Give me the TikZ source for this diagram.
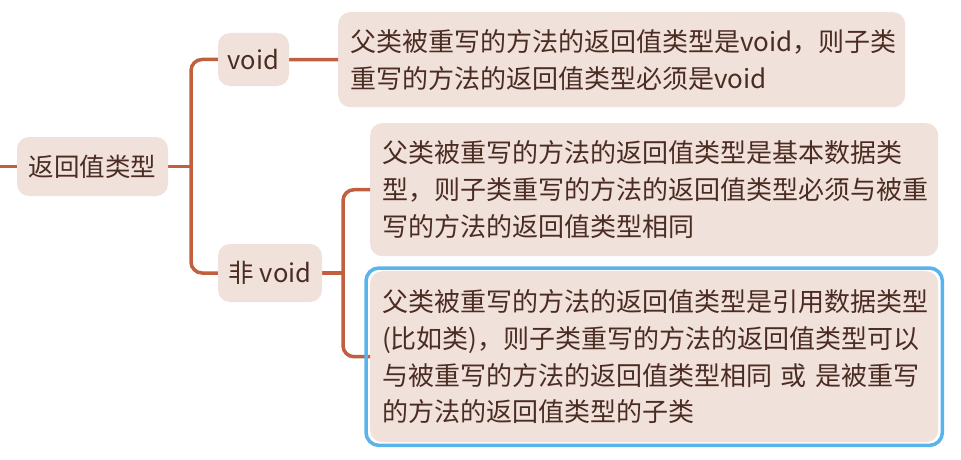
\documentclass[tikz,border=0pt]{standalone}
\usepackage{fontspec}
\setmainfont{Noto Sans CJK SC}
\definecolor{boxfill}{HTML}{F1E1DB}
\definecolor{txt}{HTML}{4B2C22}
\definecolor{conn}{HTML}{C0603E}
\definecolor{sel}{HTML}{5AB4EC}
\tikzset{
  topic/.style={fill=boxfill, rounded corners=12pt, inner sep=0pt, text=txt,
    font=\fontsize{25.5}{36.5}\selectfont, align=center},
  leaf/.style={fill=boxfill, rounded corners=12pt, inner xsep=12pt, inner ysep=0pt, text=txt,
    font=\fontsize{26}{36.8}\selectfont, align=left},
  link/.style={draw=conn, line width=3.5pt, rounded corners=11pt},
  selbox/.style={draw=sel, line width=3.5pt, rounded corners=13pt}
}
\begin{document}
\begin{tikzpicture}[x=1pt,y=-1pt]
\useasboundingbox[fill=white] (0,0) rectangle (961,460);
% nodes
\node[leaf, text width=543pt, minimum height=95pt, anchor=north west] (b1) at (338,12)
  {父类被重写的方法的返回值类型是void，则子类\\重写的方法的返回值类型必须是void};
\node[leaf, text width=544pt, minimum height=133pt, anchor=north west] (b2) at (370,123)
  {父类被重写的方法的返回值类型是基本数据类\\型，则子类重写的方法的返回值类型必须与被重\\写的方法的返回值类型相同};
\node[leaf, text width=544pt, minimum height=171pt, anchor=north west] (b3) at (370,271)
  {父类被重写的方法的返回值类型是引用数据类型\\(比如类)，则子类重写的方法的返回值类型可以\\与被重写的方法的返回值类型相同 或 是被重写\\的方法的返回值类型的子类};
% helper coordinates
\coordinate (lstart) at (0,166.5);
\coordinate (t1) at (191,0);
\coordinate (t2) at (343,0);
\coordinate (rootc) at (92.5,166.5);
\coordinate (voidc) at (253.5,59.5);
\coordinate (nonvoidc) at (270,273);
% connectors (drawn first, nodes on top)
\draw[link] (lstart) -- (rootc);
\draw[link] (rootc) -- (rootc -| t1);
\draw[link] (voidc) -- (voidc -| t1) -- (nonvoidc -| t1) -- (nonvoidc);
\draw[link] (voidc) -- (b1.west);
\draw[link] (nonvoidc) -- (nonvoidc -| t2);
\draw[link] (b2.west) -- (b2.west -| t2) -- (b3.west -| t2) -- (b3.west);
% topic nodes
\node[topic, minimum width=151pt, minimum height=59pt] (root) at (rootc) {返回值类型};
\node[topic, minimum width=71pt, minimum height=53pt] (void) at (voidc) {void};
\node[topic, minimum width=104pt, minimum height=58pt] (nonvoid) at (nonvoidc) {非 void};
% selection outline
\draw[selbox] ([shift={(-4,-3)}]b3.north west) rectangle ([shift={(4,3)}]b3.south east);
\end{tikzpicture}
\end{document}
